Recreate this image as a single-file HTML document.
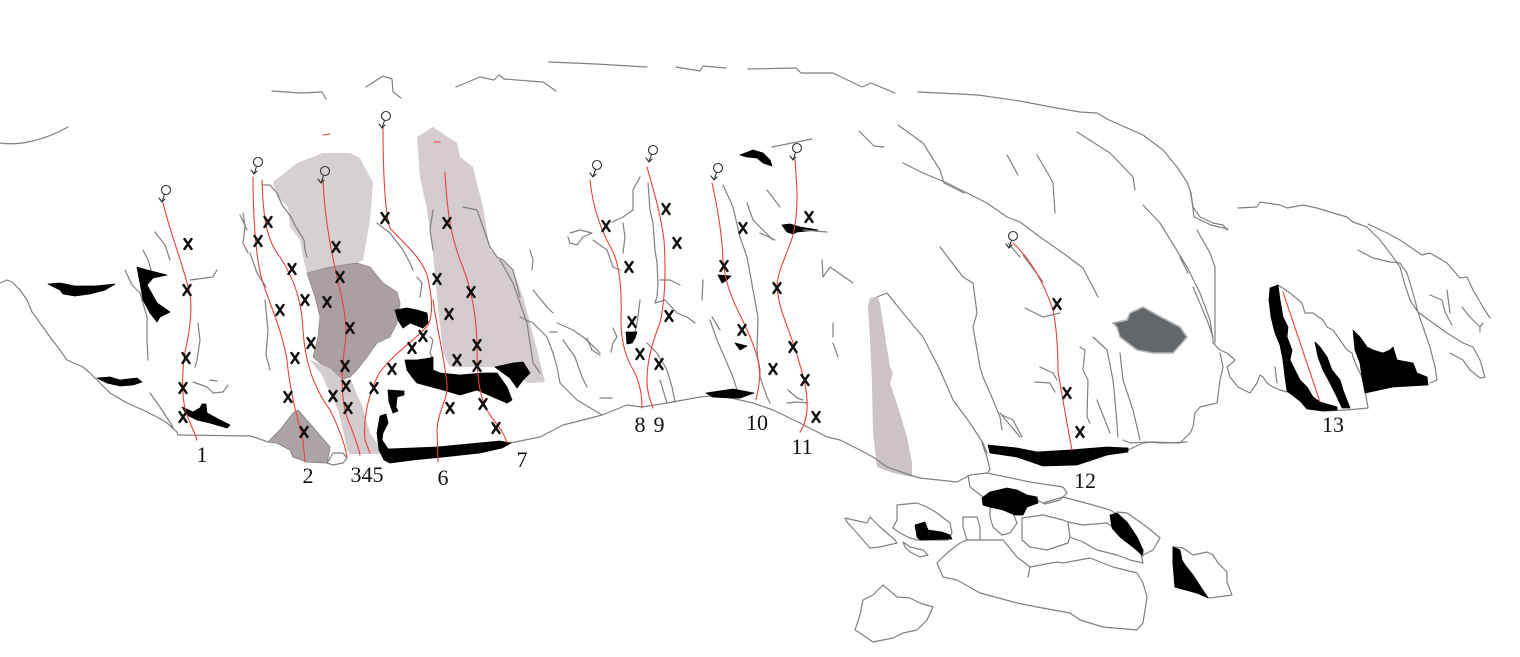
<!DOCTYPE html>
<html>
<head>
<meta charset="utf-8">
<style>
html,body{margin:0;padding:0;background:#fff;}
svg{display:block;}
.g{fill:none;stroke:#808080;stroke-width:1.2;stroke-linejoin:round;stroke-linecap:round;}
.r{fill:none;stroke:#e8413b;stroke-width:1.1;stroke-linecap:round;}
.k{fill:#000;stroke:#000;stroke-width:0.8;stroke-linejoin:round;}
.x{fill:none;stroke:#111;stroke-width:2.4;stroke-linecap:round;}
.f{fill:none;stroke:#333;stroke-width:1.1;stroke-linecap:round;stroke-linejoin:round;}
.b{fill:#fff;stroke:#808080;stroke-width:1.2;stroke-linejoin:round;}
text{font-family:"Liberation Serif",serif;font-size:22px;fill:#111;text-anchor:middle;}
</style>
</head>
<body>
<svg width="1520" height="657" viewBox="0 0 1520 657" xmlns="http://www.w3.org/2000/svg">
<rect width="1520" height="657" fill="#fff"/>

<path d="M273,182 L297,163 L323,153 L350,153 L360,158 L365,168 L373,182 L370,220 L363,260 L357,263 L330,267 L307,273 L303,257 L300,240 L290,227 L288,207 L277,197 Z" fill="#d7d0d3"/>
<path d="M307,273 L330,267 L357,263 L370,267 L383,283 L397,292 L400,303 L397,323 L390,337 L377,343 L367,357 L357,370 L350,377 L340,380 L333,370 L320,363 L313,357 L318,337 L320,317 L315,297 Z" fill="#aaa0a3" stroke="#8f8a8c" stroke-width="0.8"/>
<path d="M310,360 L322,375 L330,393 L338,410 L343,430 L347,450 L350,454 L380,454 L377,443 L370,433 L366,420 L362,405 L357,395 L352,382 L340,378 L330,368 Z" fill="#d3cccf"/>
<path d="M268,442 L280,430 L293,413 L298,410 L330,447 L328,458 L327,463 L307,462 L293,457 L290,450 L277,443 Z" fill="#aca3a6" stroke="#8a8a8a" stroke-width="1"/>
<path d="M417,137 L433,127 L457,143 L460,157 L473,167 L483,207 L490,250 L513,270 L523,297 L530,323 L537,350 L545,382 L527,383 L520,377 L497,367 L450,367 L443,353 L437,297 L433,253 L427,210 L420,177 Z" fill="#d4ccd0"/>
<path d="M870,298 L877,297 L880,303 L883,323 L890,367 L893,373 L890,383 L898,407 L907,437 L912,463 L912,477 L893,473 L877,467 L873,433 L872,383 L870,340 L868,307 Z" fill="#cbc3c6"/>
<path d="M1113,323 L1127,320 L1130,313 L1143,307 L1157,315 L1180,327 L1187,337 L1182,343 L1173,353 L1153,353 L1137,350 L1120,337 L1117,327 Z" fill="#62676b" stroke="#b5b5b5" stroke-width="1.6"/>

<path class="g" d="M0,143 C20,146 45,140 68,127"/>
<path class="g" d="M272,91 L300,93 L322,92 L326,99"/>
<path class="g" d="M366,87 L383,76 L392,79 L393,92 L401,98"/>
<path class="g" d="M456,87 L480,77 L494,80 L499,75 L504,79 L543,82 L556,91"/>
<path class="g" d="M549,62 L596,64 L647,67"/>
<path class="g" d="M676,67 L700,71 L703,66 L726,68"/>
<path class="g" d="M748,69 L796,68 L801,73 L833,73 L862,87 L871,83 L895,93"/>
<path class="g" d="M918,92 L939,93 L978,95 L1020,101 L1051,107 L1080,112 L1097,113 L1109,120 L1143,135 L1163,150 L1177,167 L1187,182 L1191,193 L1194,217 L1211,225 L1228,229"/>
<path class="g" d="M1190,190 L1193,207 L1200,217 L1213,223 L1223,225 L1227,230"/>

<path class="g" d="M1238,208 L1257,207 L1260,202 L1280,205 L1287,208 L1303,205 L1317,208 L1333,213 L1347,217 L1353,222 L1367,227 L1380,240 L1393,257 L1400,267 L1405,285 L1410,300 L1418,312 L1433,323 L1447,333 L1463,343 L1473,347 L1480,360 L1485,377 L1480,378 L1470,370 L1463,360 L1450,353"/>
<path class="g" d="M1368,224 L1387,233 L1400,240 L1422,255 L1430,253 L1447,263 L1460,278 L1467,277 L1473,290 L1483,307 L1490,318"/>
<path class="g" d="M1358,250 L1373,258 L1390,262 L1400,263 L1407,273 L1413,293 L1418,312 L1423,327 L1430,347 L1435,367 L1437,380 L1430,383"/>
<path class="g" d="M1430,295 L1442,300 L1445,312 L1452,325"/>
<path class="g" d="M1447,290 L1450,313"/>
<path class="g" d="M1462,307 L1470,317 L1480,327 L1483,323 M1480,327 L1480,332"/>

<path class="g" d="M1143,205 L1160,223 L1187,267 L1200,293 L1210,320 L1213,340 L1213,343 L1220,350 L1227,353 L1235,360 L1232,363 L1227,367 L1230,377 L1238,387 L1250,393 L1257,383 L1260,375 L1263,377 L1267,383 L1273,387 L1280,390 L1287,392"/>
<path class="g" d="M1197,230 L1210,253 L1215,267 L1215,343"/>
<path class="g" d="M1180,257 L1188,273"/>
<path class="g" d="M1193,287 L1207,320 L1213,337"/>
<path class="g" d="M1220,353 L1223,367 L1220,380 L1217,403 L1200,407 L1195,413 L1193,427 L1190,433 L1180,443 L1153,442 L1143,443 L1128,450"/>
<path class="g" d="M1123,440 L1130,443 L1147,442 L1163,443 L1187,442"/>
<path class="g" d="M1275,367 L1277,383"/>

<path class="g" d="M859,131 L874,146 L884,147"/>
<path class="g" d="M898,125 L923,143 L940,170 L944,183 L964,193"/>
<path class="g" d="M903,163 L923,173 L947,183 L967,193 L987,203 L1007,217 L1020,222 L1040,237 L1063,253 L1083,268 L1098,297"/>
<path class="g" d="M1077,132 L1110,153 L1133,177 L1135,190"/>
<path class="g" d="M1007,155 L1018,175"/>
<path class="g" d="M1037,155 L1050,177 L1053,183 L1055,213"/>
<path class="g" d="M1008,243 L1020,257"/>
<path class="g" d="M1023,255 L1043,282"/>
<path class="g" d="M1025,308 L1043,317 L1060,313"/>
<path class="g" d="M1040,367 L1053,373 L1057,380"/>
<path class="g" d="M1035,382 L1050,383 L1055,392"/>
<path class="g" d="M1080,347 L1085,350 L1083,370 L1088,380 L1087,417 L1090,423"/>
<path class="g" d="M1093,337 L1107,350 L1113,380 L1115,400 L1118,437"/>
<path class="g" d="M1097,400 L1110,433"/>
<path class="g" d="M1000,413 L1020,437"/>
<path class="g" d="M1120,353 L1123,380 L1133,410 L1140,440"/>
<path class="g" d="M940,247 L963,277 L973,283 L977,313 L973,327 L980,367 L983,377 L993,400 L1000,417 L1002,430"/>
<path class="g" d="M1002,415 L1013,420 L1022,437"/>
<path class="g" d="M877,297 L887,293 L903,313 L923,337 L940,370 L953,400 L970,423 L983,443 L987,453"/>
<path class="g" d="M833,323 L833,337 M833,343 L838,357"/>
<path class="g" d="M822,260 L823,277 L830,267 L853,283"/>
<path class="g" d="M767,190 L780,207"/>
<path class="g" d="M747,203 L753,220 L773,240"/>
<path class="g" d="M772,147 L812,139"/>
<path class="g" d="M760,233 L775,240"/>

<path class="g" d="M723,185 L733,207 L740,237 L747,257 L753,290 L758,317 L757,350 L760,377 L767,397 L770,403"/>
<path class="g" d="M703,280 L702,300"/>
<path class="g" d="M712,317 L720,330"/>
<path class="g" d="M710,320 L717,340 L727,363 L733,377 L737,390"/>
<path class="g" d="M533,290 L547,307 L553,313"/>
<path class="g" d="M520,317 L533,323 L547,337 L553,353 L557,367 L560,383 L577,400 L602,415"/>
<path class="g" d="M557,323 L573,330 L583,337 L590,343 L600,353"/>
<path class="g" d="M563,340 L575,357 L582,377 L587,387"/>
<path class="g" d="M587,338 L592,350 L600,355"/>
<path class="g" d="M613,328 L617,337 L613,343 L611,352"/>
<path class="g" d="M600,398 L612,398"/>
<path class="g" d="M550,332 L557,332"/>
<path class="g" d="M640,177 L633,190 L633,210 L623,217 L612,222"/>
<path class="g" d="M570,233 L580,230 L592,233 L583,237 L577,245 L570,243 L568,237"/>
<path class="g" d="M593,240 L607,250 L613,267 L620,270"/>
<path class="g" d="M623,223 L625,237 L623,253"/>
<path class="g" d="M648,183 L650,210 L653,223 L655,250 L657,263 L658,283 L657,297 L655,303"/>
<path class="g" d="M660,280 L670,280 L680,285"/>
<path class="g" d="M655,303 L665,300 L677,313 L687,317 L695,323"/>
<path class="g" d="M640,300 L638,317 L635,333"/>
<path class="g" d="M647,343 L657,353 L667,370 L672,387 L675,402"/>
<path class="g" d="M660,380 L667,403"/>
<path class="g" d="M788,390 L797,398 L803,400 M787,403 L797,402 L808,403"/>

<path class="g" d="M155,232 L165,245 L170,260"/>
<path class="g" d="M143,250 L148,260 L152,273"/>
<path class="g" d="M125,270 L132,285 L140,293 L147,317 L147,340 L148,360"/>
<path class="g" d="M150,393 L160,407 L173,427"/>
<path class="g" d="M198,323 L200,340 L197,360 L195,367"/>
<path class="g" d="M190,280 L213,277 L217,270"/>
<path class="g" d="M193,382 L207,387 L213,393 L223,392 L228,385"/>
<path class="g" d="M210,380 L217,381"/>
<path class="g" d="M240,215 L247,230"/>
<path class="g" d="M262,185 L270,185 L277,193 L282,205 L291,217 L296,227 L304,240 L305,250 L307,257"/>
<path class="g" d="M243,213 L245,227 L243,243 L248,253"/>
<path class="g" d="M250,253 L257,273 L266,287"/>
<path class="g" d="M265,300 L268,330 L266,355 L270,370"/>
<path class="g" d="M377,223 L390,233 L403,250 L410,263 L413,270"/>
<path class="g" d="M417,277 L422,283 L420,297"/>
<path class="g" d="M430,337 L433,340 L430,353 L433,360"/>
<path class="g" d="M463,207 L477,210 L483,227 L490,247 L497,257 L503,260 L513,270 L520,297"/>
<path class="g" d="M433,210 L430,230 L433,250"/>
<path class="g" d="M500,260 L513,283 L520,303 L527,323 L530,343 L533,363 L540,373"/>
<path class="g" d="M530,250 L533,260 L532,270"/>

<path class="g" d="M0,283 L7,280 L12,282 L20,290 L27,300 L32,312 L40,323 L50,337 L60,350 L67,360 L83,367 L90,373 L110,393 L127,403 L143,410 L157,417 L167,423 L177,432 L178,435 L250,436 L257,438 L268,442"/>
<path class="g" d="M510,443 L540,437 L563,425 L583,420 L602,415 L627,405 L642,407 L667,403 L700,397 L720,395 L727,397 L753,403 L773,410 L800,423 L827,437 L840,440 L860,450 L873,457 L887,467 L910,475 L920,478 L957,482 L970,475 L987,473 L990,470 L987,457 L982,443"/>
<path class="b" d="M327,463 L333,453 L343,453 L347,458 L343,463 L333,465 Z"/>

<path class="g" d="M968,475 L970,487 L983,497"/>
<path class="g" d="M987,473 L1030,482 L1063,487 L1067,493 L1060,500 L1045,504 L1037,500"/>
<path class="g" d="M1043,503 L1063,497 L1093,505 L1110,510 L1120,516 L1143,550 L1143,556 L1133,558"/>
<path class="g" d="M1117,512 L1127,513 L1147,527 L1160,538 L1153,550 L1143,555"/>
<path class="b" d="M1173,547 L1183,548 L1193,555 L1207,552 L1213,555 L1218,563 L1227,572 L1227,582 L1232,595 L1210,598 L1197,593 L1175,587 L1173,563 Z"/>
<path class="b" d="M845,518 L858,521 L867,523 L870,517 L880,527 L887,533 L895,540 L897,543 L880,547 L870,548 L863,540 L857,533 L847,522 Z"/>
<path class="b" d="M897,505 L917,503 L927,507 L937,513 L950,523 L952,533 L948,540 L917,540 L910,538 L900,533 L893,528 L897,520 Z"/>
<path class="b" d="M903,542 L910,547 L923,550 L928,555 L920,557 L910,552 L905,547 Z"/>
<path class="b" d="M963,517 L977,517 L980,527 L980,540 L967,540 L963,527 Z"/>
<path class="b" d="M990,508 L1000,505 L1013,513 L1017,523 L1010,533 L1002,535 L993,527 L990,517 Z"/>
<path class="b" d="M1022,518 L1043,515 L1063,520 L1068,522 L1070,537 L1068,543 L1047,550 L1030,547 L1022,540 Z"/>
<path class="b" d="M1068,522 L1083,525 L1107,523 L1117,530 L1130,540 L1140,550 L1143,563 L1130,560 L1117,555 L1097,550 L1083,542 L1070,537 Z"/>
<path class="b" d="M937,563 L940,570 L943,577 L957,580 L980,593 L1017,603 L1037,607 L1070,613 L1080,620 L1103,627 L1137,630 L1143,623 L1147,597 L1143,583 L1137,573 L1113,567 L1090,558 L1063,563 L1057,562 L1030,567 L1017,557 L1003,540 L990,540 L967,540 L960,543 L947,553 Z"/>
<path class="g" d="M1030,567 L1028,577"/>
<path class="b" d="M883,585 L897,597 L910,598 L920,603 L933,607 L927,620 L917,630 L903,633 L893,638 L873,642 L860,633 L855,630 L860,615 L863,600 L873,595 Z"/>

<path class="g" d="M1278,285 L1290,293 L1302,303 L1305,313 L1313,313 L1323,320 L1327,327 L1333,330 L1340,340 L1347,350 L1352,353 L1353,357 L1357,367 L1362,377 L1365,390 L1368,408 L1347,410 L1323,411"/>

<path class="k" d="M48,284 L60,283 L75,286 L95,286 L115,284 L105,290 L90,294 L75,296 L63,294 L60,290 Z"/>
<path class="k" d="M137,267 L147,270 L167,275 L153,278 L147,285 L157,303 L170,312 L160,317 L157,322 L150,313 L143,300 L140,283 Z"/>
<path class="k" d="M97,378 L110,377 L120,380 L137,378 L142,382 L133,385 L120,386 L107,383 Z"/>
<path class="k" d="M182,407 L193,412 L200,408 L202,404 L206,404 L207,413 L220,420 L230,425 L227,428 L210,423 L197,420 L187,415 Z"/>
<path class="k" d="M395,310 L407,308 L417,310 L427,313 L428,323 L423,328 L410,323 L403,328 L398,320 Z"/>
<path class="k" d="M405,360 L417,360 L430,358 L433,357 L433,370 L440,373 L460,375 L483,373 L497,373 L507,387 L512,400 L507,403 L493,397 L477,390 L460,395 L443,390 L417,383 L412,377 L407,370 Z"/>
<path class="k" d="M495,367 L513,363 L523,362 L530,373 L523,380 L517,388 L510,378 Z"/>
<path class="k" d="M388,390 L404,391 L404,395 L397,397 L396,407 L398,411 L393,413 L389,402 Z"/>
<path class="k" d="M380,416 L386,414 L388,423 L383,433 L382,440 L388,449 L437,447 L500,441 L511,443 L502,448 L480,453 L443,457 L413,460 L390,463 L384,460 L379,450 L377,433 Z"/>
<path class="k" d="M740,155 L753,150 L763,153 L770,160 L772,166 L763,163 L757,158 L747,157 Z"/>
<path class="k" d="M782,225 L790,224 L800,227 L818,230 L797,232 L793,234 L787,232 Z"/>
<path class="g" d="M803,230 L827,232"/>
<path class="k" d="M718,275 L731,276 L727,280 L722,283 Z"/>
<path class="k" d="M735,343 L747,346 L740,350 Z"/>
<path class="k" d="M626,332 L637,332 L635,338 L632,343 L627,344 Z"/>
<path class="k" d="M706,393 L733,389 L754,393 L740,398 L730,398 L713,397 Z"/>
<path class="k" d="M988,445 L1017,448 L1037,452 L1070,450 L1107,447 L1128,448 L1128,452 L1107,455 L1077,465 L1043,466 L1017,457 L990,453 Z"/>
<path class="k" d="M1270,288 L1278,285 L1280,300 L1283,317 L1288,327 L1287,337 L1292,350 L1290,360 L1295,370 L1300,380 L1307,387 L1313,397 L1320,402 L1337,407 L1337,410 L1323,411 L1307,409 L1300,401 L1287,391 L1285,377 L1283,360 L1280,345 L1275,333 L1271,317 L1269,300 Z"/>
<path class="k" d="M1315,342 L1320,347 L1327,357 L1332,370 L1340,380 L1343,390 L1348,403 L1350,408 L1342,408 L1337,397 L1330,383 L1323,370 L1318,357 Z"/>
<path class="k" d="M1353,330 L1360,337 L1367,347 L1373,350 L1383,353 L1390,350 L1393,347 L1397,360 L1413,363 L1417,373 L1427,377 L1428,385 L1393,387 L1365,393 L1362,377 L1360,363 L1355,350 Z"/>
<path class="k" d="M982,498 L990,492 L1007,488 L1017,490 L1027,495 L1037,497 L1038,503 L1027,507 L1023,515 L1015,515 L1003,510 L990,507 L983,505 Z"/>
<path class="k" d="M915,525 L925,522 L928,530 L942,532 L950,535 L952,539 L920,540 L917,537 Z"/>
<path class="k" d="M1110,515 L1117,513 L1127,522 L1137,537 L1143,550 L1142,555 L1133,547 L1120,537 L1112,528 Z"/>
<path class="k" d="M1173,547 L1180,550 L1182,560 L1185,565 L1193,575 L1208,598 L1197,593 L1175,587 L1173,563 Z"/>

<path class="r" d="M163,203 C170,232 182,262 189,290 C193,305 190,330 186,347 C182,367 181,395 186,412 C190,425 195,432 197,440"/>
<path class="r" d="M253,177 C253,210 255,255 262,280 C270,305 282,330 287,360 C290,393 298,420 303,440 L305,462"/>
<path class="r" d="M262,180 C263,215 266,240 280,257 C295,280 302,303 303,330 C305,360 312,385 330,410 C340,430 345,445 347,457"/>
<path class="r" d="M323,180 C325,225 333,260 340,290 C345,312 348,330 344,352 C341,380 341,405 350,425 C356,440 359,450 360,455"/>
<path class="r" d="M383,127 C383,170 385,215 390,228 C400,240 420,255 427,275 C432,295 434,313 428,325 C418,338 395,352 380,372 C368,393 363,420 365,440 L370,453"/>
<path class="r" d="M433,300 C437,330 445,360 447,385 C448,400 438,410 437,430 L438,462"/>
<path class="r" d="M445,172 C447,215 452,240 462,265 C472,290 477,320 477,350 C477,380 480,400 490,415 C500,428 505,435 507,443"/>
<path class="r" d="M590,180 C592,200 598,225 612,250 C620,265 622,290 621,320 C621,345 627,360 635,373 C640,385 642,395 642,408"/>
<path class="r" d="M647,167 C652,185 660,210 664,240 C666,270 665,300 660,323 C653,340 647,360 647,380 C647,392 650,400 653,408"/>
<path class="r" d="M712,183 C717,205 722,235 723,260 C725,280 730,295 740,315 C750,335 758,355 760,370 C760,385 757,395 756,400"/>
<path class="r" d="M795,160 C797,185 799,210 793,235 C787,255 778,270 777,285 C778,310 790,330 797,355 C803,375 808,390 807,410 C806,420 803,428 800,432"/>
<path class="r" d="M1013,243 C1030,258 1045,285 1053,310 C1058,335 1058,360 1058,372 C1063,400 1068,430 1072,450"/>
<path class="r" d="M1283,292 L1320,402"/>
<path class="r" d="M323,135 L330,134"/>
<path class="r" d="M434,142 L440,142"/>

<g class="f">
<circle cx="166" cy="190" r="4.5"/><path d="M164.5,194.5 L162,202 M159,198 L162,202 L165,199"/>
<circle cx="258" cy="162" r="4.5"/><path d="M256.5,166.5 L254,174 M251,170 L254,174 L257,171"/>
<circle cx="325" cy="171" r="4.5"/><path d="M323.5,175.5 L321,183 M318,179 L321,183 L324,180"/>
<circle cx="386" cy="116" r="4.5"/><path d="M384.5,120.5 L382,128 M379,124 L382,128 L385,125"/>
<circle cx="597" cy="165" r="4.5"/><path d="M595.5,169.5 L593,177 M590,173 L593,177 L596,174"/>
<circle cx="653" cy="150" r="4.5"/><path d="M651.5,154.5 L649,162 M646,158 L649,162 L652,159"/>
<circle cx="718" cy="168" r="4.5"/><path d="M716.5,172.5 L714,180 M711,176 L714,180 L717,177"/>
<circle cx="797" cy="148" r="4.5"/><path d="M795.5,152.5 L793,160 M790,156 L793,160 L796,157"/>
<circle cx="1013" cy="236" r="4.5"/><path d="M1011.5,240.5 L1009,248 M1006,244 L1009,248 L1012,245"/>
</g>

<path class="x" d="M184.5,239 l7,10 m0,-10 l-7,10 M183.5,285 l7,10 m0,-10 l-7,10 M182.5,353 l7,10 m0,-10 l-7,10 M179.5,383 l7,10 m0,-10 l-7,10 M179.5,412 l7,10 m0,-10 l-7,10"/>
<path class="x" d="M264.5,217 l7,10 m0,-10 l-7,10 M254.5,236 l7,10 m0,-10 l-7,10 M288.5,264 l7,10 m0,-10 l-7,10 M276.5,305 l7,10 m0,-10 l-7,10 M301.5,295 l7,10 m0,-10 l-7,10 M307.5,338 l7,10 m0,-10 l-7,10 M291.5,353 l7,10 m0,-10 l-7,10 M284.5,392 l7,10 m0,-10 l-7,10 M300.5,427 l7,10 m0,-10 l-7,10"/>
<path class="x" d="M332.5,242 l7,10 m0,-10 l-7,10 M336.5,272 l7,10 m0,-10 l-7,10 M323.5,297 l7,10 m0,-10 l-7,10 M346.5,323 l7,10 m0,-10 l-7,10 M341.5,361 l7,10 m0,-10 l-7,10 M342.5,381 l7,10 m0,-10 l-7,10 M329.5,391 l7,10 m0,-10 l-7,10 M344.5,403 l7,10 m0,-10 l-7,10"/>
<path class="x" d="M381.5,213 l7,10 m0,-10 l-7,10 M433.5,274 l7,10 m0,-10 l-7,10 M445.5,309 l7,10 m0,-10 l-7,10 M419.5,331 l7,10 m0,-10 l-7,10 M408.5,343 l7,10 m0,-10 l-7,10 M388.5,364 l7,10 m0,-10 l-7,10 M370.5,383 l7,10 m0,-10 l-7,10"/>
<path class="x" d="M443.5,218 l7,10 m0,-10 l-7,10 M467.5,287 l7,10 m0,-10 l-7,10 M473.5,340 l7,10 m0,-10 l-7,10 M453.5,355 l7,10 m0,-10 l-7,10 M473.5,361 l7,10 m0,-10 l-7,10 M446.5,403 l7,10 m0,-10 l-7,10 M479.5,399 l7,10 m0,-10 l-7,10 M492.5,423 l7,10 m0,-10 l-7,10"/>
<path class="x" d="M602.5,221 l7,10 m0,-10 l-7,10 M625.5,262 l7,10 m0,-10 l-7,10 M662.5,204 l7,10 m0,-10 l-7,10 M673.5,238 l7,10 m0,-10 l-7,10 M665.5,311 l7,10 m0,-10 l-7,10 M628.5,317 l7,10 m0,-10 l-7,10 M636.5,349 l7,10 m0,-10 l-7,10 M655.5,359 l7,10 m0,-10 l-7,10"/>
<path class="x" d="M739.5,223 l7,10 m0,-10 l-7,10 M720.5,261 l7,10 m0,-10 l-7,10 M738.5,325 l7,10 m0,-10 l-7,10 M769.5,364 l7,10 m0,-10 l-7,10 M805.5,212 l7,10 m0,-10 l-7,10 M773.5,283 l7,10 m0,-10 l-7,10 M789.5,342 l7,10 m0,-10 l-7,10 M801.5,375 l7,10 m0,-10 l-7,10 M812.5,412 l7,10 m0,-10 l-7,10"/>
<path class="x" d="M1053.5,299 l7,10 m0,-10 l-7,10 M1063.5,388 l7,10 m0,-10 l-7,10 M1076.5,427 l7,10 m0,-10 l-7,10"/>

<text x="202" y="462">1</text>
<text x="308" y="483">2</text>
<text x="367" y="482">345</text>
<text x="443" y="485">6</text>
<text x="522" y="467">7</text>
<text x="640" y="432">8</text>
<text x="659" y="432">9</text>
<text x="757" y="430">10</text>
<text x="802" y="454">11</text>
<text x="1085" y="488">12</text>
<text x="1333" y="432">13</text>
</svg>
</body>
</html>
